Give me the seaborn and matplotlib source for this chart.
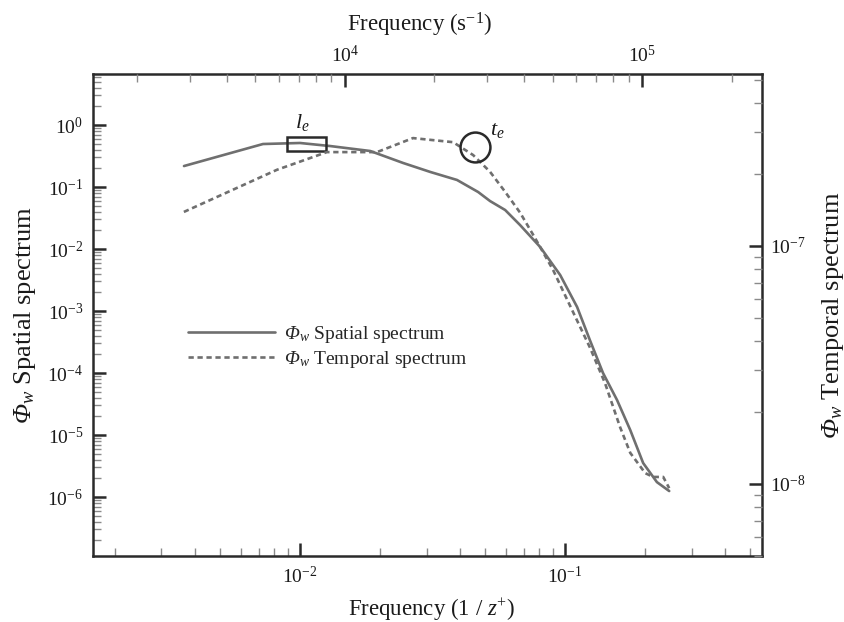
import numpy as np
import pandas as pd
import matplotlib
matplotlib.use("Agg")
import matplotlib.pyplot as plt
import seaborn as sns
from matplotlib.patches import Rectangle
from matplotlib.ticker import LogLocator, NullFormatter, FixedLocator

# ---------------- data ----------------
spatial_x = [3.65e-3, 7.25e-3, 1.00e-2, 1.30e-2, 1.84e-2, 2.45e-2, 3.10e-2, 3.91e-2,
             4.70e-2, 5.21e-2, 5.94e-2, 6.76e-2, 8.05e-2, 9.58e-2, 0.111, 0.124,
             0.139, 0.157, 0.176, 0.197, 0.222, 0.247]
spatial_y = [0.218, 0.494, 0.513, 0.458, 0.381, 0.244, 0.175, 0.130,
             0.083, 0.0594, 0.0426, 0.0244, 0.0108, 3.81e-3, 1.16e-3, 3.40e-4,
             1.0e-4, 3.67e-5, 1.21e-5, 3.53e-6, 1.74e-6, 1.25e-6]

temporal_f = [2871, 5906, 8696, 12820, 16940, 23110, 26990, 30770, 34570, 38840,
              43600, 50140, 58100, 66800, 75000, 84300, 91200, 102400, 108900,
              117700, 123300]
temporal_y = [1.39e-7, 2.09e-7, 2.48e-7, 2.48e-7, 2.84e-7, 2.73e-7, 2.41e-7, 2.05e-7,
              1.69e-7, 1.38e-7, 1.08e-7, 7.93e-8, 5.38e-8, 3.73e-8, 2.65e-8, 1.73e-8,
              1.35e-8, 1.11e-8, 1.07e-8, 1.07e-8, 9.6e-9]

# major tick values of the four axes
bottom_ticks = [1e-2, 1e-1]
left_ticks = [1e0, 1e-1, 1e-2, 1e-3, 1e-4, 1e-5, 1e-6]
top_ticks = [1e4, 1e5]
right_ticks = [1e-7, 1e-8]

series_labels = [r"$\mathbf{\Phi}_w$ Spatial spectrum", r"$\mathbf{\Phi}_w$ Temporal spectrum"]
x_label_bottom = r"Frequency (1 / $z^{+}$)"
x_label_top = r"Frequency (s$^{-1}$)"
y_label_left = r"$\mathbf{\Phi}_w$ Spatial spectrum"
y_label_right = r"$\mathbf{\Phi}_w$ Temporal spectrum"

spatial_df = pd.DataFrame({"x": spatial_x, "y": spatial_y})
temporal_df = pd.DataFrame({"f": temporal_f, "y": temporal_y})

# ---------------- style ----------------
sns.set_style("white")
plt.rcParams["font.family"] = ["Liberation Serif", "DejaVu Serif"]
plt.rcParams["mathtext.fontset"] = "custom"
plt.rcParams["mathtext.rm"] = "Liberation Serif"
plt.rcParams["mathtext.it"] = "Liberation Serif:italic"
plt.rcParams["mathtext.bf"] = "Liberation Serif:italic"
plt.rcParams["axes.unicode_minus"] = True

LINE = "#6f6f6f"
DARK = "#2a2a2a"
MINOR = "#8a8a8a"
TXT = "#1a1a1a"

fig = plt.figure(figsize=(8.45, 6.22), dpi=100)
rect = [93 / 845, 1 - 556 / 622, (762 - 93) / 845, (556 - 74) / 622]
ax = fig.add_axes(rect)
ax2 = fig.add_axes(rect, frameon=False)

# primary axes (bottom / left)
ax.set_xscale("log")
ax.set_yscale("log")
ax.set_xlim(1.656e-3, 0.553)
ax.set_ylim(1.12e-7, 6.65)

# secondary axes (top / right)
ax2.set_xscale("log")
ax2.set_yscale("log")
ax2.set_xlim(1420, 2.53e5)
ax2.set_ylim(4.98e-9, 5.28e-7)
ax2.patch.set_visible(False)

sns.lineplot(data=spatial_df, x="x", y="y", ax=ax, color=LINE, lw=1.9,
             label=series_labels[0], legend=False)
sns.lineplot(data=temporal_df, x="f", y="y", ax=ax2, color=LINE, lw=1.9,
             label=series_labels[1], legend=False)
ax2.lines[0].set_dashes((2.0, 1.4))

for a in (ax, ax2):
    for s in a.spines.values():
        s.set_linewidth(1.8)
        s.set_color(DARK)

# ticks
ax.xaxis.set_major_locator(FixedLocator(bottom_ticks))
ax.yaxis.set_major_locator(FixedLocator(left_ticks))
ax2.xaxis.set_major_locator(FixedLocator(top_ticks))
ax2.yaxis.set_major_locator(FixedLocator(right_ticks))
for a in (ax, ax2):
    a.xaxis.set_minor_locator(LogLocator(base=10, subs=np.arange(2, 10), numticks=20))
    a.yaxis.set_minor_locator(LogLocator(base=10, subs=np.arange(2, 10), numticks=20))
    a.xaxis.set_minor_formatter(NullFormatter())
    a.yaxis.set_minor_formatter(NullFormatter())

ax.tick_params(which="major", direction="in", length=9.5, width=1.8, color=DARK,
               labelsize=14, labelcolor=TXT, pad=7,
               top=False, right=False, bottom=True, left=True)
ax.tick_params(which="minor", direction="in", length=5.5, width=1.0, color=MINOR,
               top=False, right=False, bottom=True, left=True)

ax2.xaxis.tick_top()
ax2.yaxis.tick_right()
ax2.tick_params(which="major", direction="in", length=9.5, width=1.8, color=DARK,
                labelsize=14, labelcolor=TXT, pad=6,
                top=True, right=True, bottom=False, left=False,
                labeltop=True, labelright=True, labelbottom=False, labelleft=False)
ax2.tick_params(which="minor", direction="in", length=5.5, width=1.0, color=MINOR,
                top=True, right=True, bottom=False, left=False)

# axis labels
ax.set_xlabel(x_label_bottom, fontsize=16.5, color=TXT, labelpad=4)
ax.xaxis.set_label_coords((432 - 93) / 669, -0.085)
ax.set_ylabel(y_label_left, fontsize=19, color=TXT, labelpad=7)
ax2.xaxis.set_label_position("top")
ax2.yaxis.set_label_position("right")
ax2.set_xlabel(x_label_top, fontsize=16.5, color=TXT, labelpad=12)
ax2.xaxis.set_label_coords((420 - 93) / 669, 1.088)
ax2.set_ylabel(y_label_right, fontsize=19, color=TXT, labelpad=10,
               rotation=90)

# annotations: l_e box (spatial) and t_e circle (temporal)
ax.add_patch(Rectangle((8.93e-3, 0.381), 0.01253 - 8.93e-3, 0.640 - 0.381,
                       fill=False, lw=1.8, ec=DARK, zorder=5))
ax.text(9.6e-3, 0.74, r"$l_e$", fontsize=16, color=TXT, ha="left",
        va="bottom")
ax2.plot([27400], [2.61e-7], marker="o", ms=21.5, mfc="none", mec=DARK,
         mew=1.8, ls="none", zorder=5)
ax2.text(30800, 2.8e-7, r"$t_e$", fontsize=16, color=TXT, ha="left",
         va="bottom")

# legend
handles = [ax.lines[0], ax2.lines[0]]
ax.legend(handles, series_labels, loc="upper left",
          bbox_to_anchor=(0.142, 0.482), frameon=False, fontsize=14,
          handlelength=4.5, handletextpad=0.45, labelspacing=0.22,
          borderpad=0, borderaxespad=0)

fig.savefig("out.png", dpi=100)
